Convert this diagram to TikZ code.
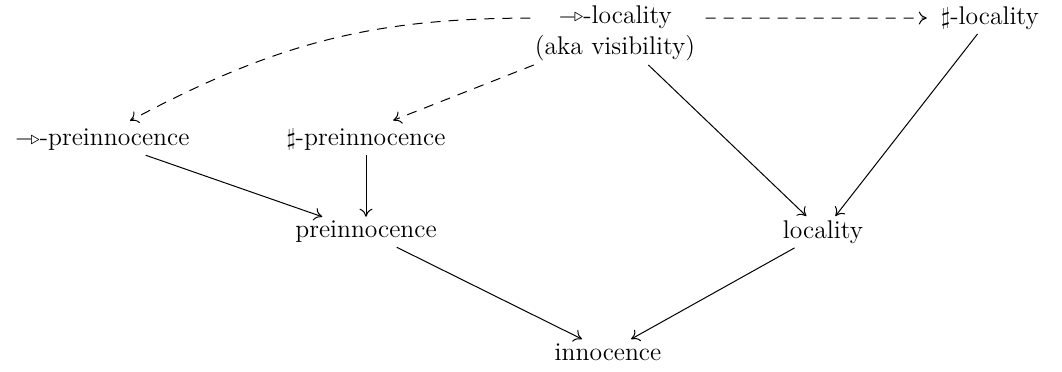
\documentclass[tikz,border=0pt]{standalone}
\usetikzlibrary{arrows.meta}
\newcommand{\hitarr}{\ensuremath{\relbar\mkern-7mu\vcenter{\hbox{$\scriptstyle\triangleright$}}}}
\tikzset{
  lbl/.style={font=\fontsize{12.8}{15.5}\selectfont, inner sep=2pt, align=center},
  imp/.style={-{To[length=4pt,width=6.5pt]}, line width=0.5pt},
  dimp/.style={imp, dash pattern=on 5pt off 4pt}
}
\begin{document}
\begin{tikzpicture}[x=0.5pt, y=-0.5pt]
\useasboundingbox (0,0) rectangle (1062,371);
\node[lbl] (vis) at (615,33) {\hitarr-locality\\(aka visibility)};
\node[lbl] (sloc) at (990,18) {$\sharp$-locality};
\node[lbl] (hpre) at (102,140) {\hitarr-preinnocence};
\node[lbl] (spre) at (366,140) {$\sharp$-preinnocence};
\node[lbl] (pre) at (366,232) {preinnocence};
\node[lbl] (loc) at (823,232) {locality};
\node[lbl] (inn) at (608,352) {innocence};
\draw[dimp, shorten <=3pt, shorten >=5pt] (vis.10) -- (sloc.west);
\draw[dimp] (vis.170) to[out=180, in=28] ([xshift=14pt,yshift=2pt]hpre.north);
\draw[dimp, shorten >=6pt] (vis) -- ([xshift=8pt]spre.north);
\draw[imp] (vis) -- (loc);
\draw[imp] (sloc) -- (loc);
\draw[imp] (hpre) -- (pre);
\draw[imp] (spre) -- (pre);
\draw[imp] (pre) -- (inn);
\draw[imp] (loc) -- (inn);
\end{tikzpicture}
\end{document}
